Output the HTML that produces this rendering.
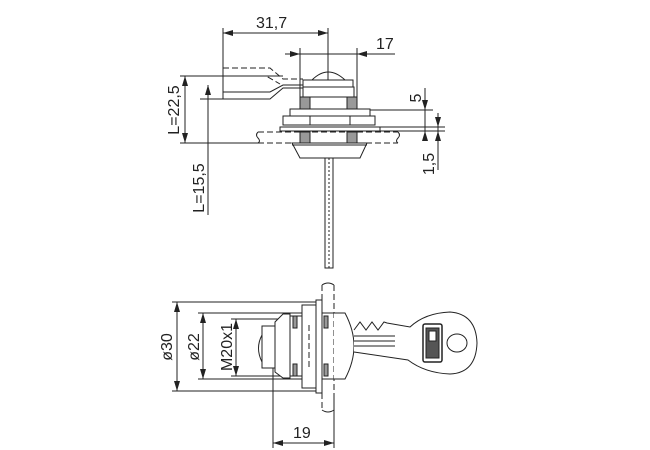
<!DOCTYPE html>
<html><head><meta charset="utf-8"><style>
html,body{margin:0;padding:0;background:#fff;width:650px;height:450px;overflow:hidden}
svg text{font-family:"Liberation Sans",Arial,sans-serif;font-size:16px;fill:#222}
</style></head><body>
<svg width="650" height="450" viewBox="0 0 650 450" xmlns="http://www.w3.org/2000/svg">
<defs>
<marker id="a" markerWidth="10" markerHeight="6" refX="10" refY="3" orient="auto-start-reverse" markerUnits="userSpaceOnUse"><path d="M0,0 L10,3 L0,6 z" fill="#222"/></marker>
</defs>
<g stroke="#222" stroke-width="1" fill="none">
<line x1="223" y1="28" x2="223" y2="99"/>
<line x1="328" y1="28" x2="328" y2="80"/>
<line x1="223" y1="33" x2="328" y2="33" marker-start="url(#a)" marker-end="url(#a)"/>
<line x1="300" y1="48" x2="300" y2="97"/>
<line x1="357" y1="48" x2="357" y2="97"/>
<line x1="285" y1="54" x2="300" y2="54" marker-end="url(#a)"/>
<line x1="300" y1="54" x2="357" y2="54"/>
<line x1="395" y1="54" x2="357" y2="54" marker-end="url(#a)"/>
<line x1="180" y1="76" x2="283" y2="76"/>
<line x1="180" y1="143" x2="258" y2="143"/>
<line x1="185" y1="76" x2="185" y2="143" marker-start="url(#a)" marker-end="url(#a)"/>
<line x1="200" y1="99" x2="223" y2="99"/>
<line x1="208" y1="85" x2="208" y2="143" marker-start="url(#a)"/>
<line x1="208" y1="143" x2="208" y2="215"/>
<line x1="370" y1="110" x2="433" y2="110"/>
<line x1="380" y1="127" x2="445" y2="127"/>
<line x1="380" y1="131" x2="445" y2="131"/>
<line x1="425" y1="88" x2="425" y2="110" marker-end="url(#a)"/>
<line x1="425" y1="110" x2="425" y2="131"/>
<line x1="425" y1="140" x2="425" y2="131" marker-end="url(#a)"/>
<line x1="438" y1="113" x2="438" y2="127" marker-end="url(#a)"/>
<line x1="438" y1="127" x2="438" y2="131"/>
<line x1="438" y1="170" x2="438" y2="131" marker-end="url(#a)"/>
<path d="M223,92 L270,92 L283,85 L303,85"/>
<path d="M223,99 L270,99 L283,88 L303,88"/>
<line x1="223" y1="92" x2="223" y2="99"/>
<path d="M223,68 L270,68 L283,79 L303,79" stroke-dasharray="6,3"/>
<path d="M223,76 L266,76 L280,84" stroke-dasharray="6,3"/>
<path d="M312,80 Q328,64 345,80"/>
<rect x="303" y="80" width="50" height="7" fill="#fff"/>
<rect x="303" y="87" width="51" height="10" fill="#fff"/>
<rect x="300" y="97" width="10" height="12" fill="#999"/>
<rect x="347" y="97" width="10" height="12" fill="#999"/>
<rect x="290" y="109" width="80" height="7" fill="#fff"/>
<rect x="283" y="116" width="92" height="9" fill="#fff"/>
<line x1="310" y1="116" x2="310" y2="125"/><line x1="350" y1="116" x2="350" y2="125"/>
<rect x="280" y="127" width="100" height="4" fill="#fff"/>
<path d="M258,132 L398,132 M258,143 L398,143" stroke-dasharray="6,3"/>
<path d="M258,132 q-3,3 0,6 q3,3 0,5 M398,132 q3,3 0,6 q-3,3 0,5"/>
<rect x="300" y="132" width="10" height="11" fill="#999"/>
<rect x="347" y="132" width="10" height="11" fill="#999"/>
<path d="M292,143 L367,143 L360,158 L300,158 Z" fill="#fff"/>
<line x1="292" y1="145" x2="367" y2="145"/>
<rect x="325" y="158" width="8" height="110" fill="#fff"/>
<line x1="329" y1="158" x2="329" y2="268" stroke-dasharray="2,2"/>
<line x1="172" y1="302" x2="320" y2="302"/>
<line x1="172" y1="391" x2="320" y2="391"/>
<line x1="177" y1="302" x2="177" y2="391" marker-start="url(#a)" marker-end="url(#a)"/>
<line x1="198" y1="313" x2="334" y2="313"/>
<line x1="198" y1="379" x2="334" y2="379"/>
<line x1="203" y1="313" x2="203" y2="379" marker-start="url(#a)" marker-end="url(#a)"/>
<line x1="231" y1="319" x2="290" y2="319"/>
<line x1="231" y1="376" x2="290" y2="376"/>
<line x1="236" y1="319" x2="236" y2="376" marker-start="url(#a)" marker-end="url(#a)"/>
<line x1="273" y1="362" x2="273" y2="448"/>
<line x1="334" y1="393" x2="334" y2="448"/>
<line x1="273" y1="443" x2="334" y2="443" marker-start="url(#a)" marker-end="url(#a)"/>
<path d="M322,285 L322,410 M334,285 L334,410" stroke-dasharray="6,3"/>
<path d="M322,285 q6,-4 12,0 M322,410 q6,4 12,0"/>
<path d="M262,335 Q255,348 262,362" />
<rect x="262" y="326" width="13" height="42" fill="#fff"/>
<path d="M275,322 L283,314 L290,314 L290,378 L283,378 L275,372 Z" fill="#fff"/>
<rect x="290" y="316" width="12" height="60" fill="#fff"/>
<rect x="293" y="316" width="4" height="12" fill="#999"/><rect x="293" y="364" width="4" height="12" fill="#999"/>
<rect x="302" y="305" width="14" height="83" fill="#fff"/>
<line x1="309" y1="325" x2="309" y2="368" stroke-dasharray="6,3"/>
<rect x="316" y="300" width="6" height="93" fill="#fff"/>
<rect x="324" y="316" width="4" height="12" fill="#999"/><rect x="324" y="364" width="4" height="12" fill="#999"/>
<path d="M334,313 L345,313 Q354,330 354,346 Q354,362 345,379 L334,379" fill="#fff"/>
<path d="M354,330 L360,322 L366,330 L372,322 L378,330 L384,322 L387,323 L410,327 Q425,313 450,312 Q476,314 477,343 Q476,373 450,374 Q425,373 408,360 L354,352" fill="#fff"/>
<line x1="354" y1="336" x2="395" y2="336"/>
<line x1="354" y1="341" x2="395" y2="341"/>
<line x1="354" y1="346" x2="395" y2="346"/>
<rect x="423" y="324" width="19" height="38" rx="2" fill="#fff" stroke-width="1.5"/>
<rect x="426" y="328" width="13" height="30" fill="#555"/>
<rect x="429" y="331" width="7" height="10" fill="#fff"/>
<ellipse cx="457" cy="343" rx="10" ry="9" fill="#fff"/>
</g>
<text x="256" y="28">31,7</text>
<text x="376" y="49">17</text>
<text transform="translate(179,110) rotate(-90)" text-anchor="middle">L=22,5</text>
<text transform="translate(204,188) rotate(-90)" text-anchor="middle">L=15,5</text>
<text transform="translate(421,98) rotate(-90)" text-anchor="middle">5</text>
<text transform="translate(434,164) rotate(-90)" text-anchor="middle">1,5</text>
<text transform="translate(172,347) rotate(-90)" text-anchor="middle">ø30</text>
<text transform="translate(199,347) rotate(-90)" text-anchor="middle">ø22</text>
<text transform="translate(232,347) rotate(-90)" text-anchor="middle">M20x1</text>
<text x="293" y="438">19</text>
</svg>
</body></html>
